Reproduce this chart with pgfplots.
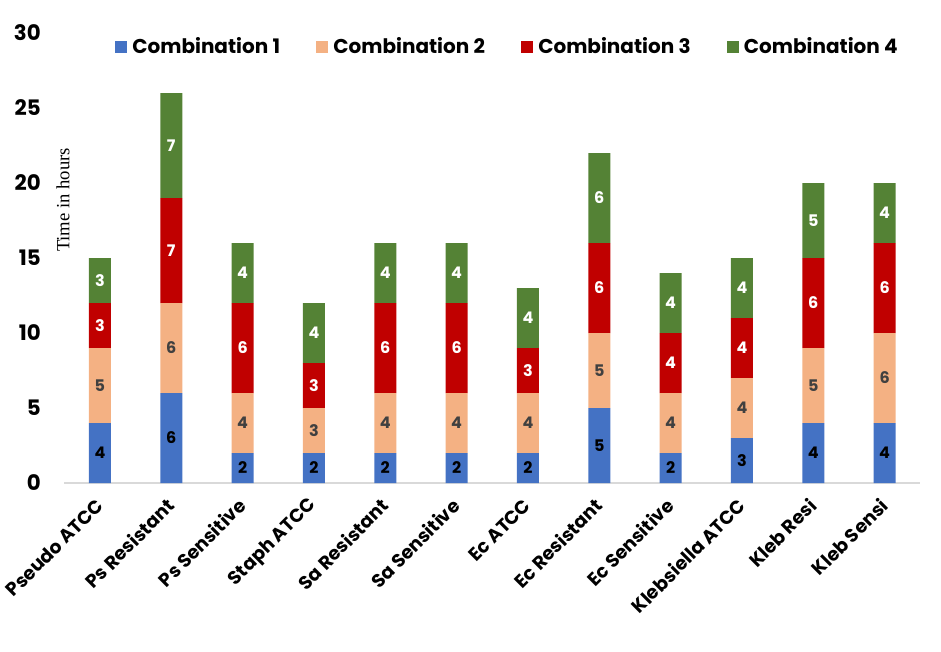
\documentclass[border=0pt]{standalone}
\usepackage{fontspec}
\setmainfont{Poppins}
\newfontfamily\serifl{Liberation Serif}
\usepackage{pgfplots}
\usepackage{pgfplotstable}
\pgfplotsset{compat=1.18}
\definecolor{cA}{HTML}{4472C4}
\definecolor{cB}{HTML}{F4B183}
\definecolor{cC}{HTML}{C00000}
\definecolor{cD}{HTML}{548235}
\definecolor{lblB}{HTML}{404040}
\pgfplotstableread{
x c1 c2 c3 c4
0 4 5 3 3
1 6 6 7 7
2 2 4 6 4
3 2 3 3 4
4 2 4 6 4
5 2 4 6 4
6 2 4 3 4
7 5 5 6 6
8 2 4 4 4
9 3 4 4 4
10 4 5 6 5
11 4 6 6 4
}\datatable
\begin{document}
\begin{tikzpicture}
\path[use as bounding box] (-48.2pt,-126pt) rectangle (657.55pt,362.25pt);
\begin{axis}[
  at={(0,0)}, anchor=south west,
  scale only axis, width=642pt, height=337.5pt,
  clip=false,
  ybar stacked, bar width=16.5pt,
  xmin=-0.5, xmax=11.5, ymin=0, ymax=30,
  enlarge x limits=false, enlarge y limits=false,
  xtick=data,
  xticklabels={Pseudo ATCC,Ps Resistant,Ps Sensitive,Staph ATCC,Sa Resistant,Sa Sensitive,Ec ATCC,Ec Resistant,Ec Sensitive,Klebsiella ATCC,Kleb Resi,Kleb Sensi},
  ytick={0,5,...,30},
  axis x line=bottom, axis y line=left,
  x axis line style={draw=black!15, line width=1pt, -},
  y axis line style={draw=none},
  tick style={draw=none},
  /pgf/number format/assume math mode=true,
  yticklabel style={font=\fontsize{16}{18}\selectfont\bfseries, anchor=east, xshift=-12pt},
  xticklabel style={font=\fontsize{14}{16}\selectfont\bfseries, rotate=45, anchor=east, xshift=3pt},
  xticklabel shift=12pt,
  legend columns=4,
  legend style={draw=none, fill=none, at={(0.518,0.969)}, anchor=center,
    font=\fontsize{15}{17}\selectfont\bfseries,
    /tikz/every even column/.append style={column sep=25pt},
    /tikz/every odd column/.append style={column sep=2pt}},
  legend image code/.code={\fill[#1] (0pt,-4.5pt) rectangle (9pt,4.5pt);},
  nodes near coords={\pgfplotspointmeta},
  point meta=explicit symbolic,
  every node near coord/.append style={font=\fontsize{12}{14}\selectfont\bfseries, anchor=center},
]
\addplot[fill=cA, draw=none, every node near coord/.append style={text=black}] table[x=x, y=c1, meta=c1] {\datatable};
\addplot[fill=cB, draw=none, every node near coord/.append style={text=lblB}] table[x=x, y=c2, meta=c2] {\datatable};
\addplot[fill=cC, draw=none, every node near coord/.append style={text=white}] table[x=x, y=c3, meta=c3] {\datatable};
\addplot[fill=cD, draw=none, every node near coord/.append style={text=white}] table[x=x, y=c4, meta=c4] {\datatable};
\legend{Combination 1,Combination 2,Combination 3,Combination 4}
\node[rotate=90, anchor=center, font=\serifl\fontsize{14}{16}\selectfont] at (rel axis cs:-0.0015,0.629) {Time in hours};
\end{axis}
\end{tikzpicture}
\end{document}
